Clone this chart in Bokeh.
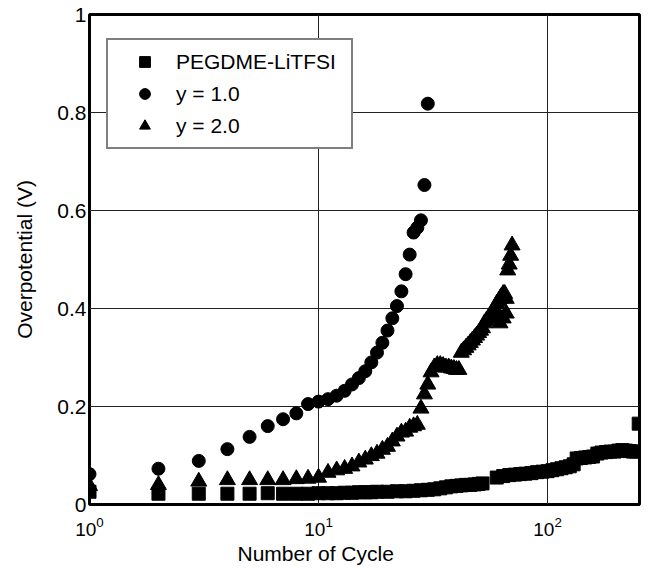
from bokeh.plotting import figure
from bokeh.models import (Range1d, FixedTicker, Legend, LegendItem, Title,
                          CustomJSTickFormatter)
from bokeh.embed import file_html
from bokeh.resources import INLINE

# ---- data ----
sq_cycle = [1, 2, 3, 4, 5, 6, 7, 8, 9, 10, 11, 12, 13, 14, 15, 16, 17, 18, 20,
            22, 24, 26, 28, 30, 32, 34, 36, 38, 40, 42, 44, 46, 48, 50, 52,
            60, 64, 68, 72, 76, 80, 85, 90, 95, 100, 105, 110, 115, 120, 125,
            130, 134, 140, 146, 152, 158, 165, 172, 180, 188, 196, 204, 212,
            220, 228, 236, 244, 250]
sq_v = [0.026, 0.022, 0.022, 0.022, 0.022, 0.023, 0.022, 0.022, 0.022, 0.023,
        0.023, 0.023, 0.024, 0.024, 0.025, 0.025, 0.025, 0.026, 0.026,
        0.027, 0.027, 0.028, 0.029, 0.030, 0.031, 0.033, 0.035, 0.037, 0.038,
        0.039, 0.040, 0.040, 0.041, 0.042, 0.043,
        0.055, 0.058, 0.060, 0.061, 0.062, 0.063, 0.064, 0.066, 0.067, 0.068,
        0.070, 0.072, 0.074, 0.076, 0.078, 0.082, 0.094, 0.095, 0.096, 0.097,
        0.098, 0.104, 0.106, 0.107, 0.108, 0.108, 0.110, 0.111, 0.110, 0.109,
        0.108, 0.108, 0.165]

c1_cycle = list(range(1, 31))
c1_v = [0.062, 0.073, 0.089, 0.113, 0.138, 0.160, 0.174, 0.186, 0.205, 0.210,
        0.215, 0.222, 0.232, 0.245, 0.258, 0.272, 0.290, 0.310, 0.330, 0.355,
        0.380, 0.405, 0.435, 0.470, 0.510, 0.555, 0.565, 0.580, 0.652, 0.818]

tr_cycle = [1, 2, 3, 4, 5, 6, 7, 8, 9, 10, 11, 12, 13, 14, 15, 16, 17, 18, 19,
            20, 21, 22, 23, 24, 25, 26, 27, 28, 29, 30, 31, 32, 33, 34, 35, 36,
            37, 38, 39, 40, 41, 42, 43, 44, 45, 46, 47, 48, 49, 50, 51, 52, 53,
            54, 55, 56, 57, 58, 59, 60, 61, 62, 63, 64, 65, 66, 62, 64, 66,
            67, 68, 69, 70]
tr_v = [0.038, 0.040, 0.047, 0.050, 0.050, 0.050, 0.050, 0.052, 0.053, 0.055,
        0.065, 0.070, 0.073, 0.078, 0.086, 0.092, 0.099, 0.104, 0.112, 0.118,
        0.129, 0.139, 0.147, 0.149, 0.157, 0.160, 0.163, 0.196, 0.225, 0.245,
        0.270, 0.280, 0.285, 0.285, 0.283, 0.280, 0.280, 0.278, 0.277, 0.275,
        0.275, 0.310, 0.315, 0.320, 0.325, 0.330, 0.335, 0.340, 0.345, 0.350,
        0.355, 0.360, 0.370, 0.375, 0.380, 0.385, 0.390, 0.395, 0.400, 0.410,
        0.415, 0.420, 0.425, 0.430, 0.430, 0.420, 0.370, 0.380, 0.390,
        0.478, 0.490, 0.508, 0.529]

x_ticks = [1, 10, 100]
y_ticks = [0, 0.2, 0.4, 0.6, 0.8, 1.0]

FONT = "Liberation Sans"

p = figure(width=649, height=568, x_axis_type="log",
           x_range=Range1d(1, 252), y_range=Range1d(0, 1),
           output_backend="svg", toolbar_location=None,
           min_border_left=89, min_border_right=10,
           min_border_top=14, min_border_bottom=64)

p.background_fill_color = "white"
p.border_fill_color = "white"
p.outline_line_color = "black"
p.outline_line_width = 3

p.xaxis.ticker = FixedTicker(ticks=x_ticks)
p.yaxis.ticker = FixedTicker(ticks=y_ticks)
p.yaxis.formatter = CustomJSTickFormatter(code="return String(Math.round(tick*10)/10);")

for ax in (p.xaxis, p.yaxis):
    ax.axis_line_color = None
    ax.major_tick_line_color = None
    ax.minor_tick_line_color = None
    ax.major_tick_out = 0
    ax.major_tick_in = 0
    ax.major_label_text_font = FONT
    ax.major_label_text_color = "black"

p.xaxis.major_label_text_font_size = "19px"
p.yaxis.major_label_text_font_size = "21px"
p.xaxis.major_label_standoff = 12
p.yaxis.major_label_standoff = 3

p.yaxis.axis_label = "Overpotential (V)"
p.yaxis.axis_label_text_font = FONT
p.yaxis.axis_label_text_font_size = "21px"
p.yaxis.axis_label_text_font_style = "normal"
p.yaxis.axis_label_text_color = "black"
p.yaxis.axis_label_standoff = 18

p.xgrid.ticker = FixedTicker(ticks=x_ticks)
p.ygrid.ticker = FixedTicker(ticks=y_ticks)
for g in (p.xgrid, p.ygrid):
    g.grid_line_color = "#222222"
    g.grid_line_width = 1

r_sq = p.scatter(sq_cycle, sq_v, marker="square", size=13, color="black")
r_c = p.scatter(c1_cycle, c1_v, marker="circle", size=13, color="black")
r_t = p.scatter(tr_cycle, tr_v, marker="triangle", size=16, color="black")

legend = Legend(items=[LegendItem(label="PEGDME-LiTFSI", renderers=[r_sq]),
                       LegendItem(label="y = 1.0", renderers=[r_c]),
                       LegendItem(label="y = 2.0", renderers=[r_t])],
                location=(17, 355))
legend.label_text_font = FONT
legend.label_text_font_size = "21px"
legend.label_text_color = "black"
legend.glyph_width = 57
legend.glyph_height = 27
legend.label_height = 27
legend.label_width = 167
legend.label_standoff = 3
legend.spacing = 5
legend.padding = 8
legend.border_line_color = "black"
legend.border_line_width = 2
legend.background_fill_color = "white"
legend.background_fill_alpha = 1
p.add_layout(legend)

xlabel = Title(text="Number of Cycle", align="left", offset=148, standoff=2,
               text_font=FONT, text_font_size="21px", text_font_style="normal",
               text_color="black")
p.add_layout(xlabel, "below")

open("out.html", "w").write(file_html(p, INLINE))
